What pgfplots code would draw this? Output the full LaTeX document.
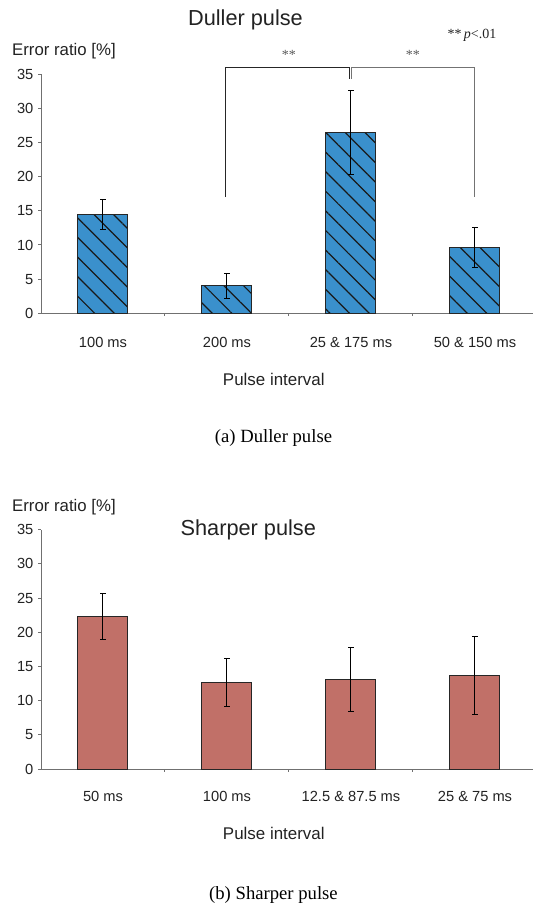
\documentclass[border=0pt]{standalone}
\usepackage{pgfplots}
\pgfplotsset{compat=1.18}
\usepackage{pgfplotstable}
\usepackage{fontspec}
\setmainfont{Liberation Sans}
\newfontfamily\seriffont{Liberation Serif}
\usetikzlibrary{patterns.meta}
\definecolor{dullblue}{HTML}{3A90CC}
\definecolor{sharpred}{HTML}{C17068}
\definecolor{axisgray}{HTML}{707070}
\definecolor{txt}{HTML}{222222}

\pgfplotstableread{
x y e
0 14.45 2.22
1 4.02 1.83
2 26.51 6.14
3 9.60 2.90
}\dull
\pgfplotstableread{
x y e
0 22.30 3.30
1 12.68 3.50
2 13.05 4.65
3 13.65 5.75
}\sharp

\pgfplotsset{
  errchart/.style={
    scale only axis, width=369pt, height=179.5pt,
    xmin=-0.5, xmax=3.468, ymin=0, ymax=35,
    axis x line*=bottom, axis y line*=left,
    axis line style={axisgray, line width=0.75pt},
    ytick={0,5,...,35},
    xtick={0,1,2,3},
    minor xtick={0.5,1.5,2.5},
    tick align=outside,
    major tick length=2pt, minor tick length=2pt,
    every tick/.style={axisgray, line width=0.75pt},
    major x tick style={draw=none},
    /pgf/number format/assume math mode=true,
    tick label style={font=\fontsize{11}{13}\selectfont, text=txt},
    yticklabel style={anchor=east, inner sep=0pt, xshift=-3.5pt},
    clip=false,
  },
  errbars/.style={draw=none, mark=none, forget plot,
    error bars/.cd, y dir=both, y explicit,
    error bar style={black, line width=0.75pt, solid},
    error mark options={rotate=90, black, mark size=1.9pt, line width=0.75pt}},
}

\begin{document}
\begin{tikzpicture}
\useasboundingbox (0,0) rectangle (399.75pt,-678.75pt);

% ---------- (a) Duller pulse ----------
\begin{axis}[errchart, at={(30.75pt,-235pt)}, anchor=south west,
  xticklabels={100 ms, 200 ms, 25 \& 175 ms, 50 \& 150 ms},
  xticklabel style={anchor=base, inner sep=0pt, yshift=-23.3pt}]
\addplot[ybar, bar width=37.5pt, bar shift=0pt, fill=dullblue, draw=black!85, line width=0.75pt,
  postaction={pattern={Lines[angle=-45,distance=10.4pt,line width=0.9pt]}, pattern color=black!90}]
  table[x=x,y=y]{\dull};
\addplot[errbars] table[x=x,y=y,y error=e]{\dull};
\draw[black!85, line width=0.75pt] (axis cs:0.988,17) -- (axis cs:0.988,36) -- (axis cs:1.985,36) -- (axis cs:1.985,34.25);
\draw[black!55, line width=0.75pt] (axis cs:2.005,34.25) -- (axis cs:2.005,36) -- (axis cs:3.0,36) -- (axis cs:3.0,17);
\node[anchor=base, text=black!65, font=\seriffont\fontsize{10.5}{12}\selectfont, yshift=5.5pt] at (axis cs:1.5,36) {**};
\node[anchor=base, text=black!65, font=\seriffont\fontsize{10.5}{12}\selectfont, yshift=5.5pt] at (axis cs:2.5,36) {**};
\end{axis}
\node[anchor=base, text=txt, font=\fontsize{16.3}{19}\selectfont] at (184.1pt,-19.1pt) {Duller pulse};
\node[anchor=base, text=txt, font=\seriffont\fontsize{10.5}{12}\selectfont] at (354pt,-29.25pt) {**\,\textit{p}<.01};
\node[anchor=base west, inner sep=0pt, text=txt, font=\fontsize{12.6}{15}\selectfont] at (8.9pt,-41.85pt) {Error ratio [\%]};
\node[anchor=base, text=txt, font=\fontsize{12.7}{15}\selectfont] at (205.35pt,-288.75pt) {Pulse interval};
\node[anchor=base, text=black, font=\seriffont\fontsize{14}{17}\selectfont] at (205.1pt,-331.7pt) {(a)\ Duller pulse};

% ---------- (b) Sharper pulse ----------
\begin{axis}[errchart, at={(30.75pt,-576.75pt)}, anchor=south west,
  xticklabels={50 ms, 100 ms, 12.5 \& 87.5 ms, 25 \& 75 ms},
  xticklabel style={anchor=base, inner sep=0pt, yshift=-22pt}]
\addplot[ybar, bar width=37.5pt, bar shift=0pt, fill=sharpred, draw=black!85, line width=0.75pt]
  table[x=x,y=y]{\sharp};
\addplot[errbars] table[x=x,y=y,y error=e]{\sharp};
\end{axis}
\node[anchor=base west, inner sep=0pt, text=txt, font=\fontsize{12.6}{15}\selectfont] at (8.9pt,-383.25pt) {Error ratio [\%]};
\node[anchor=base, text=txt, font=\fontsize{16.3}{19}\selectfont] at (186.2pt,-401.25pt) {Sharper pulse};
\node[anchor=base, text=txt, font=\fontsize{12.7}{15}\selectfont] at (205.35pt,-629.5pt) {Pulse interval};
\node[anchor=base, text=black, font=\seriffont\fontsize{14}{17}\selectfont] at (205.1pt,-674.5pt) {(b)\ Sharper pulse};
\end{tikzpicture}
\end{document}
